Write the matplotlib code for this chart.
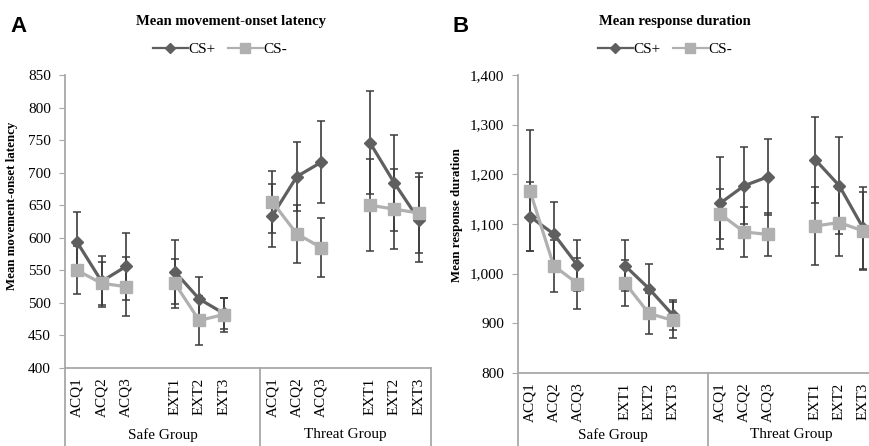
import numpy as np
import matplotlib
matplotlib.use('Agg')
import matplotlib.pyplot as plt
from matplotlib.lines import Line2D
from matplotlib.ticker import FuncFormatter, MultipleLocator

plt.rcParams['font.family'] = ['Liberation Serif', 'DejaVu Serif']

nan = np.nan

# categories (blank slot after each phase block, as in the original sheet)
categories = ['ACQ1', 'ACQ2', 'ACQ3', '', 'EXT1', 'EXT2', 'EXT3', '',
              'ACQ1', 'ACQ2', 'ACQ3', '', 'EXT1', 'EXT2', 'EXT3']
groups = ['Safe Group', 'Threat Group']

# Panel A: movement-onset latency
lat_csp = [593, 533, 556, nan, 548, 506, 484, nan, 634, 694, 716, nan, 746, 684, 628]
lat_csp_err = [47, 39, 52, nan, 49, 34, 24, nan, 48, 53, 63, nan, 79, 74, 65]
lat_csm = [550, 530, 525, nan, 530, 473, 482, nan, 655, 606, 585, nan, 650, 644, 638]
lat_csm_err = [37, 33, 45, nan, 38, 37, 26, nan, 47, 44, 46, nan, 71, 61, 62]

# Panel B: response duration
dur_csp = [1115, 1080, 1017, nan, 1016, 970, 917, nan, 1142, 1177, 1195, nan, 1229, 1177, 1092]
dur_csp_err = [70, 64, 51, nan, 51, 49, 30, nan, 93, 78, 77, nan, 86, 98, 82]
dur_csm = [1167, 1016, 980, nan, 981, 920, 906, nan, 1120, 1084, 1079, nan, 1096, 1103, 1086]
dur_csm_err = [122, 52, 51, nan, 47, 41, 36, nan, 51, 50, 44, nan, 78, 68, 79]

DARK = '#5f5f5f'
LIGHT = '#b0b0b0'
ERR = '#3c3c3c'
AXC = '#a8a8a8'

fig = plt.figure(figsize=(8.7, 4.46), dpi=100)
W, H = 870.0, 446.0


def panel(rect, csp, csp_err, csm, csm_err, ylim, step, ylabel, ylab, grp_y, comma=False):
    ax = fig.add_axes(rect)
    x = np.arange(len(categories))
    for y, e, col, mk, ms in [(csp, csp_err, DARK, 'D', 6.5), (csm, csm_err, LIGHT, 's', 8)]:
        y = np.array(y, dtype=float)
        e = np.array(e, dtype=float)
        ax.errorbar(x, y, yerr=e, fmt='none', ecolor=ERR, elinewidth=1.2,
                    capsize=3, capthick=1.1, zorder=2)
        ax.plot(x, y, color=col, lw=2.3, marker=mk, ms=ms, mec=col, mfc=col, zorder=3)
    ax.set_xlim(-0.5, len(categories) - 0.5)
    ax.set_ylim(*ylim)
    ax.yaxis.set_major_locator(MultipleLocator(step))
    if comma:
        ax.yaxis.set_major_formatter(FuncFormatter(lambda v, p: '{:,.0f}'.format(v)))
    ax.set_xticks(x)
    ax.set_xticklabels(categories, rotation=90, fontsize=11)
    ax.tick_params(axis='x', length=0, pad=7)
    ax.tick_params(axis='y', length=4, color=AXC, labelsize=11, pad=6)
    for s in ['top', 'right']:
        ax.spines[s].set_visible(False)
    for s in ['left', 'bottom']:
        ax.spines[s].set_color(AXC)
        ax.spines[s].set_linewidth(1.3)
    ax.set_ylabel(ylabel, fontsize=9.3, fontweight='bold')
    ax.yaxis.set_label_coords(*ylab)
    # group separators below the axis
    for xv in [-0.5, 7.5, len(categories) - 0.5]:
        ax.plot([xv, xv], [0, -0.35], color=AXC, lw=1.3, clip_on=False,
                transform=ax.get_xaxis_transform())
    ax.text(3.5, grp_y, groups[0], transform=ax.get_xaxis_transform(),
            ha='center', va='center', fontsize=11)
    ax.text(11, grp_y, groups[1], transform=ax.get_xaxis_transform(),
            ha='center', va='center', fontsize=11)
    return ax


axA = panel([65 / W, (H - 368) / H, 366 / W, 293 / H],
            lat_csp, lat_csp_err, lat_csm, lat_csm_err, (400, 850), 50,
            'Mean movement-onset latency', (-0.128, 0.555), -0.228)
axB = panel([518 / W, (H - 373) / H, 357 / W, 298 / H],
            dur_csp, dur_csp_err, dur_csm, dur_csm_err, (800, 1400), 100,
            'Mean response duration', (-0.153, 0.53), -0.208, comma=True)

# titles, panel letters, legends
handles = [Line2D([], [], color=DARK, lw=1.6, marker='D', ms=5),
           Line2D([], [], color=LIGHT, lw=1.6, marker='s', ms=6.5)]
for cx, title, letter, lx in [(231, 'Mean movement-onset latency', 'A', 19),
                              (675, 'Mean response duration', 'B', 461)]:
    fig.text(cx / W, 1 - 21 / H, title, ha='center', va='center',
             fontsize=10.5, fontweight='bold')
    fig.text(lx / W, 1 - 27 / H, letter, ha='center', va='center',
             fontsize=16, fontweight='bold', family='Liberation Sans')
lx_list = [220, 665]
for lx in lx_list:
    fig.legend(handles, ['CS+', 'CS-'], loc='center', bbox_to_anchor=(lx / W, 1 - 49 / H),
               ncol=2, frameon=False, fontsize=11, handlelength=2.3,
               handletextpad=0.05, columnspacing=0.8, borderpad=0)

plt.savefig('out.png', dpi=100)
